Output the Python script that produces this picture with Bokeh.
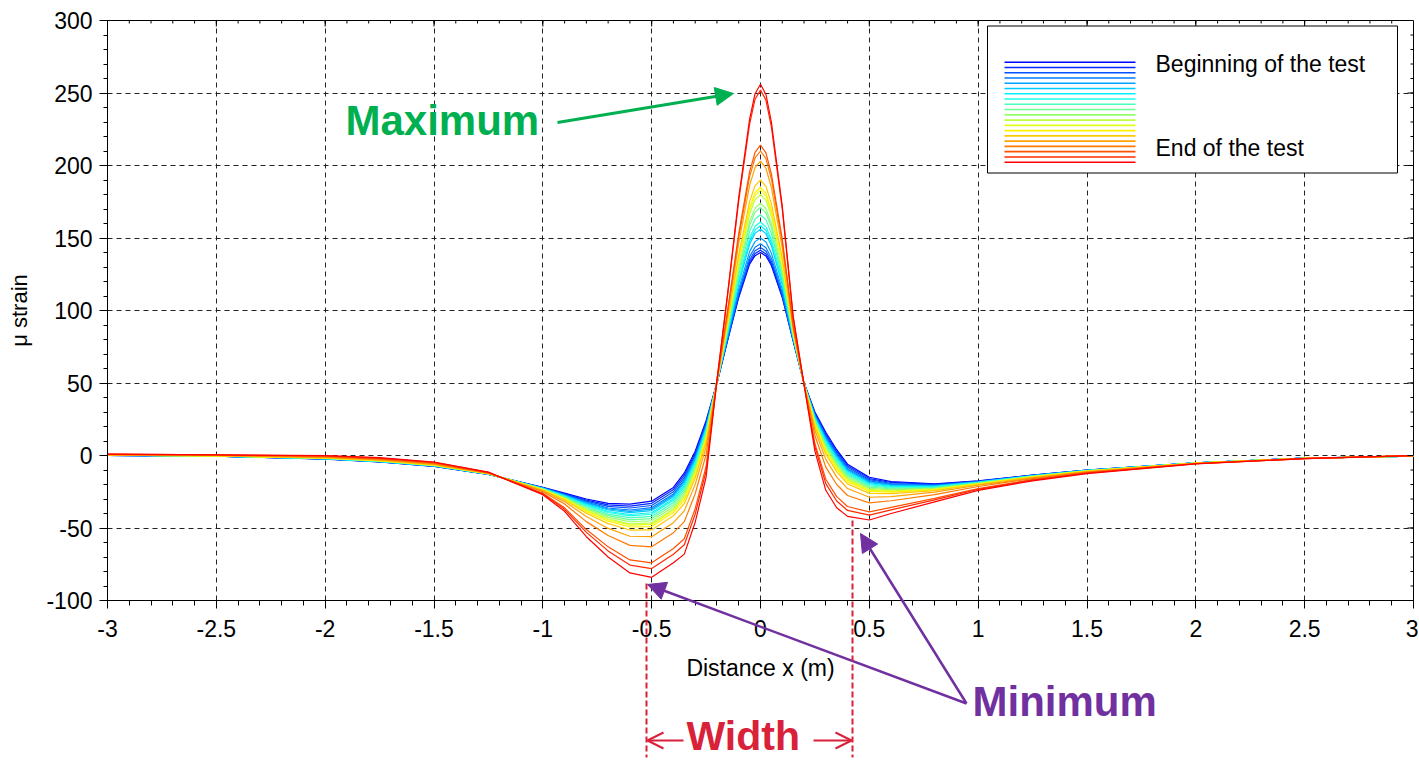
from bokeh.plotting import figure
from bokeh.layouts import column
from bokeh.models import Label, Arrow, NormalHead, OpenHead, FixedTicker, Range1d, LinearAxis
from bokeh.embed import file_html
from bokeh.resources import INLINE

# ---------------- data ----------------
distance_m = [-3.0, -2.5, -2.0, -1.75, -1.5, -1.25, -1.0, -0.9, -0.8, -0.7, -0.6, -0.5,
              -0.4, -0.35, -0.3, -0.25, -0.2, -0.15, -0.1, -0.05, -0.025, 0.0, 0.025, 0.05,
              0.1, 0.15, 0.2, 0.25, 0.3, 0.35, 0.4, 0.5, 0.6, 0.8, 1.0, 1.25, 1.5, 2.0, 2.5, 3.0]

test_01 = [0, -0.5, -2.5, -4.5, -7.5, -13, -22, -26, -30, -33, -33.5, -31.5, -22, -12, 3, 24, 50, 80, 109, 132, 137.8, 140, 137.6, 131, 109, 79, 50, 30, 16, 4, -6, -15, -18, -19.5, -17.5, -13.5, -10, -5, -1.8, -0.5]
test_02 = [0, -0.5, -2.4, -4.4, -7.4, -13, -22.1, -26.4, -30.8, -34.1, -34.9, -33, -23.5, -13.6, 1.6, 22.9, 50, 80.4, 109.9, 133.3, 139.3, 141.5, 139.0, 132.3, 109.8, 79.2, 50, 29.2, 14.8, 2.8, -7, -15.9, -18.6, -19.9, -17.7, -13.6, -10.1, -5, -1.8, -0.5]
test_03 = [0.1, -0.4, -2.4, -4.3, -7.3, -12.9, -22.3, -26.7, -31.5, -35.1, -36.2, -34.5, -25, -15.2, 0.2, 21.8, 50.1, 81, 111.1, 135, 141.2, 143.5, 140.9, 134, 110.9, 79.5, 49.9, 28.5, 13.7, 1.7, -8.1, -16.7, -19.3, -20.2, -17.9, -13.7, -10.1, -5, -1.8, -0.5]
test_04 = [0.1, -0.4, -2.3, -4.2, -7.2, -12.9, -22.4, -27.1, -32.2, -36.2, -37.6, -36, -26.5, -16.8, -1.2, 20.6, 50.2, 81.7, 112.6, 137.2, 143.6, 146, 143.3, 136.1, 112.3, 79.9, 49.9, 27.7, 12.6, 0.6, -9.1, -17.5, -19.9, -20.6, -18.1, -13.8, -10.2, -5.1, -1.8, -0.5]
test_05 = [0.1, -0.4, -2.2, -4.2, -7.2, -12.8, -22.5, -27.3, -32.7, -36.9, -38.5, -37, -27.5, -17.9, -2.1, 19.9, 50.2, 82.8, 114.9, 140.6, 147.5, 150, 147.2, 139.5, 114.4, 80.5, 49.8, 27.2, 11.8, -0.2, -9.8, -18.1, -20.3, -20.8, -18.2, -13.9, -10.3, -5.1, -1.8, -0.4]
test_06 = [0.1, -0.4, -2.2, -4.1, -7.1, -12.8, -22.6, -27.6, -33.2, -37.6, -39.4, -38, -28.4, -18.9, -3.1, 19.2, 50.2, 84.6, 118.5, 145.8, 153.2, 156, 153.0, 144.7, 117.7, 81.3, 49.8, 26.7, 11, -1, -10.5, -18.7, -20.7, -21.1, -18.3, -14, -10.3, -5.1, -1.8, -0.4]
test_07 = [0.2, -0.3, -2.1, -4.0, -7.0, -12.8, -22.8, -27.9, -34, -38.6, -40.7, -39.5, -29.9, -20.5, -4.4, 18.1, 50.3, 85.2, 120, 147.9, 155.6, 158.5, 155.3, 146.7, 119, 81.7, 49.7, 25.9, 9.9, -2.1, -11.5, -19.5, -21.3, -21.4, -18.5, -14.1, -10.4, -5.1, -1.9, -0.4]
test_08 = [0.2, -0.3, -2.1, -4.0, -7.0, -12.7, -22.9, -28.1, -34.4, -39.3, -41.6, -40.5, -30.9, -21.6, -5.4, 17.3, 50.3, 86, 121.5, 150.1, 158.1, 161, 157.7, 148.9, 120.4, 82.1, 49.7, 25.4, 9.2, -2.8, -12.2, -20, -21.8, -21.6, -18.6, -14.2, -10.4, -5.1, -1.9, -0.4]
test_09 = [0.2, -0.3, -2.0, -3.9, -6.9, -12.7, -23, -28.5, -35.2, -40.4, -43, -42, -32.4, -23.2, -6.8, 16.2, 50.4, 87.4, 124.5, 154.4, 162.9, 166, 162.5, 153.2, 123.1, 82.8, 49.6, 24.6, 8, -4, -13.2, -20.9, -22.4, -22, -18.8, -14.3, -10.5, -5.2, -1.9, -0.4]
test_10 = [0.2, -0.3, -1.9, -3.8, -6.8, -12.7, -23.1, -28.9, -36, -41.5, -44.4, -43.5, -33.9, -24.8, -8.2, 15.1, 50.5, 88.8, 127.4, 158.7, 167.7, 171, 167.3, 157.4, 125.8, 83.5, 49.6, 23.8, 6.8, -5.2, -14.2, -21.8, -23, -22.4, -19, -14.4, -10.6, -5.2, -1.9, -0.4]
test_11 = [0.3, -0.2, -1.9, -3.7, -6.7, -12.6, -23.3, -29.2, -36.7, -42.5, -45.7, -45, -35.4, -26.4, -9.6, 14, 50.5, 89.7, 129.2, 161.3, 170.6, 174, 170.2, 160, 127.5, 84, 49.5, 23.1, 5.7, -6.3, -15.3, -22.6, -23.7, -22.7, -19.2, -14.5, -10.6, -5.2, -1.9, -0.4]
test_12 = [0.3, -0.2, -1.8, -3.6, -6.6, -12.6, -23.4, -29.6, -37.4, -43.6, -47.1, -46.5, -36.9, -28, -11, 12.8, 50.6, 91.4, 132.8, 166.5, 176.4, 180, 176.0, 165.2, 130.7, 84.9, 49.5, 22.3, 4.6, -7.4, -16.3, -23.4, -24.3, -23.1, -19.4, -14.6, -10.7, -5.2, -1.9, -0.4]
test_13 = [0.3, -0.2, -1.7, -3.6, -6.6, -12.5, -23.5, -29.8, -37.9, -44.3, -48, -47.5, -37.9, -29.1, -11.9, 12.1, 50.6, 92.2, 134.6, 169.1, 179.2, 183, 178.9, 167.7, 132.4, 85.3, 49.4, 21.8, 3.8, -8.2, -17, -24, -24.7, -23.3, -19.5, -14.7, -10.8, -5.2, -1.9, -0.3]
test_14 = [0.3, -0.2, -1.7, -3.5, -6.5, -12.5, -23.7, -30.2, -38.7, -45.3, -49.3, -49, -39.3, -30.6, -13.3, 11, 50.7, 92.8, 135.8, 170.8, 181.2, 185, 180.8, 169.4, 133.4, 85.6, 49.4, 21, 2.7, -9.3, -18, -24.8, -25.3, -23.7, -19.7, -14.8, -10.8, -5.3, -1.9, -0.3]
test_15 = [0.4, -0.1, -1.6, -3.4, -6.4, -12.4, -23.9, -30.7, -39.8, -47, -51.4, -51.3, -41.6, -33.1, -15.5, 9.3, 50.8, 94.2, 138.7, 175.1, 186.0, 190, 185.6, 173.7, 136.2, 86.3, 49.3, 19.8, 0.9, -11.1, -19.6, -26.1, -26.3, -24.2, -20, -15, -10.9, -5.3, -2, -0.3]
test_16 = [0.5, 0, -1.3, -3.1, -6.1, -12.3, -24.3, -31.8, -42.1, -50.3, -55.7, -56, -46.3, -38.2, -19.9, 5.8, 50.9, 97.9, 146.5, 186.3, 198.5, 203, 198.1, 184.8, 143.2, 88.2, 49.2, 17.4, -2.7, -14.7, -22.8, -28.8, -28.3, -25.3, -20.5, -15.4, -11.2, -5.4, -2, -0.3]
test_17 = [0.6, 0.1, -1.0, -2.7, -5.7, -12.1, -25, -33.5, -45.6, -55.2, -62, -63, -53.2, -45.6, -26.4, 0.6, 51.2, 99.9, 150.6, 192.3, 205.2, 210, 204.8, 190.7, 147, 89.3, 49.1, 13.8, -8, -20, -27.6, -32.7, -31.2, -27, -21.4, -15.9, -11.5, -5.5, -2, -0.2]
test_18 = [0.8, 0.3, -0.5, -2.1, -5.1, -11.8, -26, -36.1, -51.1, -63, -72, -74, -64.1, -57.4, -36.7, -7.6, 51.6, 101.1, 153, 195.8, 209.1, 214, 208.7, 194.2, 149.2, 89.8, 49, 8.1, -16.4, -28.4, -35.2, -38.9, -35.8, -29.6, -22.8, -16.7, -12, -5.6, -2.1, -0.1]
test_19 = [0.9, 0.4, -0.3, -1.8, -4.8, -11.7, -26.4, -37.1, -53, -65.8, -75.6, -78, -68.1, -61.6, -40.4, -10.6, 51.8, 111.9, 175.7, 228.6, 245.7, 252, 245.1, 226.6, 169.9, 95.4, 48.9, 6.1, -19.4, -31.4, -37.9, -41.1, -37.5, -30.6, -23.3, -17, -12.2, -5.7, -2.2, -0.1]
test_20 = [1.0, 0.5, 0, -1.5, -4.5, -11.5, -27, -38.5, -56, -70, -81, -84, -74, -68, -46, -15, 52, 113, 178, 232, 249.5, 256, 249.0, 230, 172, 96, 48.8, 3, -24, -36, -42, -44.5, -40, -32, -24, -17.5, -12.5, -5.8, -2.2, 0]

tests = [test_01, test_02, test_03, test_04, test_05, test_06, test_07, test_08, test_09, test_10,
         test_11, test_12, test_13, test_14, test_15, test_16, test_17, test_18, test_19, test_20]

x_ticks = [-3, -2.5, -2, -1.5, -1, -0.5, 0, 0.5, 1, 1.5, 2, 2.5, 3]
x_tick_labels = ["-3", "-2.5", "-2", "-1.5", "-1", "-0.5", "0", "0.5", "1", "1.5", "2", "2.5", "3"]
y_ticks = [-100, -50, 0, 50, 100, 150, 200, 250, 300]
y_tick_labels = ["-100", "-50", "0", "50", "100", "150", "200", "250", "300"]
legend_labels = ["Beginning of the test", "End of the test"]

# ---------------- styling / layout ----------------
FONT = "Liberation Sans"
W, H = 1418, 761
FX0, FX1, FY0, FY1 = 107, 1413, 20, 600   # frame edges in page pixels
GREEN, PURPLE, RED = "#00b050", "#7030a0", "#d9213a"


def jet(t):
    r = min(max(1.5 - abs(4 * t - 3), 0), 1)
    g = min(max(1.5 - abs(4 * t - 2), 0), 1)
    b = min(max(1.5 - abs(4 * t - 1), 0), 1)
    return "#%02x%02x%02x" % (round(255 * r), round(255 * g), round(255 * b))


n = len(tests)
colors = [jet(0.125 + 0.75 * i / (n - 1)) for i in range(n)]

x_minor = [round(-3 + 0.1 * i, 2) for i in range(61)]
y_minor = [-100 + 10 * i for i in range(41)]

# ---------------- main chart ----------------
p = figure(width=W, height=H, output_backend="svg", toolbar_location=None, title=None,
           x_range=Range1d(-3, 3), y_range=Range1d(-100, 300),
           min_border_left=FX0, min_border_right=W - FX1, min_border_top=FY0, min_border_bottom=H - FY1)
p.background_fill_color = "white"
p.border_fill_color = "white"
p.outline_line_color = "black"
p.outline_line_width = 1

p.xaxis.ticker = FixedTicker(ticks=x_ticks, minor_ticks=x_minor)
p.yaxis.ticker = FixedTicker(ticks=y_ticks, minor_ticks=y_minor)
p.xaxis.major_label_overrides = {t: s for t, s in zip(x_ticks, x_tick_labels)}
p.yaxis.major_label_overrides = {t: s for t, s in zip(y_ticks, y_tick_labels)}

for ax in (p.xaxis[0], p.yaxis[0]):
    ax.axis_line_color = "black"
    ax.major_tick_line_color = "black"
    ax.minor_tick_line_color = "black"
    ax.major_tick_out = 8
    ax.major_tick_in = 0
    ax.minor_tick_out = 4
    ax.minor_tick_in = 0
    ax.major_label_text_font = FONT
    ax.major_label_text_font_size = "23px"
    ax.major_label_text_color = "black"
    ax.axis_label_text_font = FONT
    ax.axis_label_text_font_style = "normal"
    ax.axis_label_text_color = "black"

p.xaxis.minor_tick_out = 5
p.xaxis.major_label_standoff = 11
p.yaxis.major_label_standoff = 7
p.xaxis.axis_label = "Distance x (m)"
p.xaxis.axis_label_text_font_size = "23px"
p.xaxis.axis_label_standoff = 15

# y-axis title carried by a tick-less axis whose rule is centred where the reference title sits
ylab_axis = LinearAxis(ticker=FixedTicker(ticks=[]), bounds=(-100, 234), axis_label="\u03bc strain",
                       axis_line_color=None, major_tick_line_color=None, minor_tick_line_color=None,
                       axis_label_text_font=FONT, axis_label_text_font_size="22px",
                       axis_label_text_font_style="normal", axis_label_text_color="black",
                       axis_label_standoff=12)
p.add_layout(ylab_axis, "left")

for g in (p.xgrid[0], p.ygrid[0]):
    g.grid_line_color = "#222222"
    g.grid_line_dash = "5 4"
    g.grid_line_width = 1

for ys, c in zip(tests, colors):
    p.line(distance_m, ys, line_color=c, line_width=1.2)

# ---------------- transparent overlay (page-pixel space) for annotations ----------------
# its frame is horizontally aligned with the main frame by the column layout
o = figure(width=W, height=H, output_backend="svg", toolbar_location=None, title=None,
           x_range=Range1d(FX0, FX1), y_range=Range1d(H, 0),
           x_axis_location=None, y_axis_location=None,
           min_border_left=FX0, min_border_right=W - FX1, min_border_top=0, min_border_bottom=0)
o.background_fill_alpha = 0
o.border_fill_alpha = 0
o.outline_line_color = None
o.grid.visible = False
o.margin = (-H, 0, 0, 0)


def x2px(x):
    return FX0 + (x + 3) / 6 * (FX1 - FX0)


def y2px(y):
    return FY0 + (300 - y) / 400 * (FY1 - FY0)


def base(y, size):
    # Label places alphabetic text ~0.39 em below its anchor in this renderer
    return y - 0.39 * size


# inner ticks on top and right borders (mirrors of the main axes)
top_maj = [x2px(t) for t in x_ticks[1:-1]]
top_min = [x2px(t) for t in x_minor[1:-1]]
o.segment(x0=top_maj, x1=top_maj, y0=[FY0] * len(top_maj), y1=[FY0 + 6] * len(top_maj),
          line_color="black", line_width=1)
o.segment(x0=top_min, x1=top_min, y0=[FY0] * len(top_min), y1=[FY0 + 3] * len(top_min),
          line_color="black", line_width=1)
r_maj = [y2px(t) for t in y_ticks[1:-1]]
r_min = [y2px(t) for t in y_minor[1:-1]]
o.segment(x0=[FX1] * len(r_maj), x1=[FX1 - 6] * len(r_maj), y0=r_maj, y1=r_maj,
          line_color="black", line_width=1)
o.segment(x0=[FX1] * len(r_min), x1=[FX1 - 3] * len(r_min), y0=r_min, y1=r_min,
          line_color="black", line_width=1)

# legend
o.quad(left=[987], right=[1397], top=[25.5], bottom=[172.5], fill_color="white",
       line_color="black", line_width=1)
leg_y = [61.7 + i * (100.0 / (n - 1)) for i in range(n)]
o.segment(x0=[1004] * n, x1=[1135] * n, y0=leg_y, y1=leg_y, line_color=colors, line_width=1.6)
o.add_layout(Label(x=1155, y=base(72, 23), text=legend_labels[0], text_font=FONT, text_font_size="23px",
                   text_color="black", text_baseline="alphabetic"))
o.add_layout(Label(x=1155, y=base(156.5, 23), text=legend_labels[1], text_font=FONT, text_font_size="23px",
                   text_color="black", text_baseline="alphabetic"))

# Maximum
o.add_layout(Label(x=345, y=base(136, 42), text="Maximum", text_font=FONT, text_font_style="bold",
                   text_font_size="42px", text_color=GREEN, text_baseline="alphabetic"))
o.add_layout(Arrow(x_start=557, y_start=122, x_end=733, y_end=93, line_color=GREEN, line_width=3,
                   end=NormalHead(size=18, fill_color=GREEN, line_color=GREEN)))

# Minimum
o.add_layout(Label(x=972, y=base(717, 42), text="Minimum", text_font=FONT, text_font_style="bold",
                   text_font_size="42px", text_color=PURPLE, text_baseline="alphabetic"))
for tx, ty in ((647, 584), (860, 533)):
    o.add_layout(Arrow(x_start=966, y_start=703, x_end=tx, y_end=ty, line_color=PURPLE,
                       line_width=2.5, end=NormalHead(size=18, fill_color=PURPLE, line_color=PURPLE)))

# Width
for vx, vy in ((646, 583), (852, 520)):
    o.add_layout(Arrow(x_start=vx, y_start=vy, x_end=vx, y_end=757, line_color=RED,
                       line_width=2, line_dash="6 3", end=None))
o.add_layout(Arrow(x_start=683, y_start=740, x_end=647, y_end=740, line_color=RED, line_width=2,
                   end=OpenHead(size=16, line_color=RED, line_width=2)))
o.add_layout(Arrow(x_start=813, y_start=740, x_end=851, y_end=740, line_color=RED, line_width=2,
                   end=OpenHead(size=16, line_color=RED, line_width=2)))
o.add_layout(Label(x=686, y=base(751, 41), text="Width", text_font=FONT, text_font_style="bold",
                   text_font_size="41px", text_color=RED, text_baseline="alphabetic"))

layout = column(p, o)
open("out.html", "w").write(file_html(layout, INLINE))
